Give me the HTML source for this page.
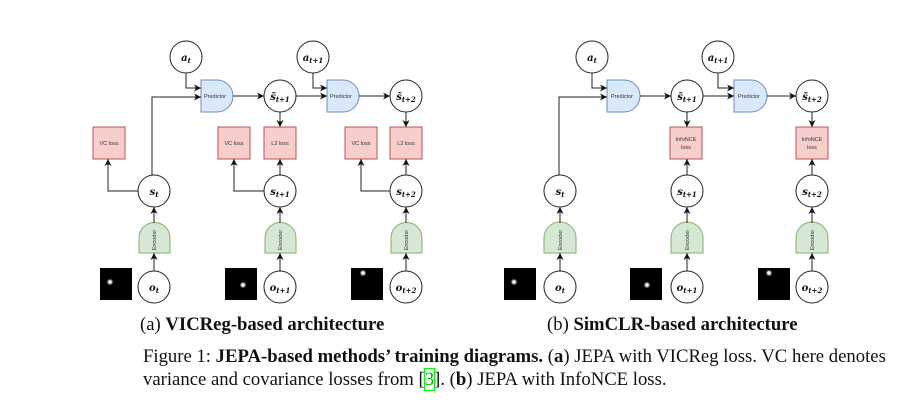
<!DOCTYPE html>
<html><head><meta charset="utf-8"><style>
body{margin:0;background:#fff;width:915px;height:410px;overflow:hidden;position:relative;font-family:"Liberation Serif",serif}
.t{position:absolute;white-space:nowrap;color:#111}
</style></head><body>
<svg width="915" height="410" style="position:absolute;left:0;top:0" font-family="Liberation Sans, sans-serif">
<defs>
<marker id="ar" markerWidth="8" markerHeight="8" refX="7" refY="4" orient="auto" markerUnits="userSpaceOnUse"><path d="M0,0.5 L7,4 L0,7.5 L2,4z" fill="#111"/></marker>
<radialGradient id="dot"><stop offset="0" stop-color="#fff"/><stop offset="0.4" stop-color="#ddd"/><stop offset="1" stop-color="#000" stop-opacity="0"/></radialGradient>
</defs>
<g stroke="#222" stroke-width="1" fill="none">
<g fill="#fff">
<circle cx="186" cy="57" r="16"/><circle cx="313" cy="57" r="16"/>
<circle cx="280" cy="96" r="16"/><circle cx="406" cy="96" r="16"/>
<circle cx="154" cy="191" r="16"/><circle cx="280" cy="191" r="16"/><circle cx="406" cy="191" r="16"/>
<circle cx="154" cy="287" r="16"/><circle cx="280" cy="287" r="16"/><circle cx="406" cy="287" r="16"/>
<circle cx="592" cy="57" r="16"/><circle cx="718" cy="57" r="16"/>
<circle cx="687" cy="96" r="16"/><circle cx="812" cy="96" r="16"/>
<circle cx="560" cy="191" r="16"/><circle cx="687" cy="191" r="16"/><circle cx="812" cy="191" r="16"/>
<circle cx="560" cy="287" r="16"/><circle cx="687" cy="287" r="16"/><circle cx="812" cy="287" r="16"/>
</g>
<g fill="#dae8fc" stroke="#6c8ebf">
<path d="M201,80 H217 A16,16 0 0 1 217,112 H201 Z"/>
<path d="M327,80 H343 A16,16 0 0 1 343,112 H327 Z"/>
<path d="M607,80 H624 A16,16 0 0 1 624,112 H607 Z"/>
<path d="M734,80 H751 A16,16 0 0 1 751,112 H734 Z"/>
</g>
<g fill="#d5e8d4" stroke="#82b366">
<path d="M139,253 V238 A15.5,15.5 0 0 1 170,238 V253 Z"/>
<path d="M265,253 V238 A15.5,15.5 0 0 1 296,238 V253 Z"/>
<path d="M391,253 V238 A15.5,15.5 0 0 1 422,238 V253 Z"/>
<path d="M544,253 V238 A16,16 0 0 1 576,238 V253 Z"/>
<path d="M671,253 V238 A16,16 0 0 1 703,238 V253 Z"/>
<path d="M796,253 V238 A16,16 0 0 1 828,238 V253 Z"/>
</g>
<g fill="#f8cecc" stroke="#b85450">
<rect x="93" y="127" width="32" height="32"/><rect x="218" y="127" width="32" height="32"/><rect x="264" y="127" width="32" height="32"/>
<rect x="345" y="127" width="32" height="32"/><rect x="390" y="127" width="32" height="32"/>
<rect x="670" y="127" width="32" height="32"/><rect x="796" y="127" width="32" height="32"/>
</g>
<g marker-end="url(#ar)">
<path d="M154,271 V253"/><path d="M280,271 V253"/><path d="M406,271 V253"/>
<path d="M154,223 V207"/><path d="M280,223 V207"/><path d="M406,223 V207"/>
<path d="M138,191 H108 V159"/><path d="M264,191 H234 V159"/><path d="M390,191 H361 V159"/>
<path d="M280,175 V159"/><path d="M406,175 V159"/>
<path d="M280,112 V127"/><path d="M406,112 V127"/>
<path d="M152,175 V97 H201"/><path d="M186,73 V88 H201"/>
<path d="M233,96 H264"/><path d="M296,96 H327"/><path d="M313,73 V88 H327"/><path d="M359,96 H390"/>
<path d="M560,271 V253"/><path d="M687,271 V253"/><path d="M812,271 V253"/>
<path d="M560,223 V207"/><path d="M687,223 V207"/><path d="M812,223 V207"/>
<path d="M687,175 V159"/><path d="M812,175 V159"/>
<path d="M687,112 V127"/><path d="M812,112 V127"/>
<path d="M559,175 V97 H607"/><path d="M592,73 V88 H607"/>
<path d="M640,96 H671"/><path d="M703,96 H734"/><path d="M718,73 V88 H734"/><path d="M767,96 H796"/>
</g>
</g>
<g>
<rect x="100" y="268" width="32" height="32" fill="#000"/><circle cx="110" cy="282" r="4" fill="url(#dot)"/>
<rect x="225" y="268" width="32" height="32" fill="#000"/><circle cx="243" cy="285" r="4" fill="url(#dot)"/>
<rect x="351" y="268" width="32" height="32" fill="#000"/><circle cx="363" cy="273" r="4" fill="url(#dot)"/>
<rect x="504" y="268" width="32" height="32" fill="#000"/><circle cx="514" cy="282" r="4" fill="url(#dot)"/>
<rect x="630" y="268" width="32" height="32" fill="#000"/><circle cx="647" cy="285" r="4" fill="url(#dot)"/>
<rect x="758" y="268" width="32" height="32" fill="#000"/><circle cx="769" cy="273" r="4" fill="url(#dot)"/>
</g>
<g font-size="5.5" fill="#333" text-anchor="middle">
<text x="215" y="98">Predictor</text><text x="341" y="98">Predictor</text>
<text x="622" y="98">Predictor</text><text x="749" y="98">Predictor</text>
<text x="109" y="145">VC loss</text><text x="234" y="145">VC loss</text><text x="280" y="145">L2 loss</text>
<text x="361" y="145">VC loss</text><text x="406" y="145">L2 loss</text>
<text x="686" y="141">InfoNCE</text><text x="686" y="149">loss</text>
<text x="812" y="141">InfoNCE</text><text x="812" y="149">loss</text>
<text transform="translate(156,240) rotate(-90)">Encoder</text>
<text transform="translate(282,240) rotate(-90)">Encoder</text>
<text transform="translate(408,240) rotate(-90)">Encoder</text>
<text transform="translate(562,240) rotate(-90)">Encoder</text>
<text transform="translate(689,240) rotate(-90)">Encoder</text>
<text transform="translate(814,240) rotate(-90)">Encoder</text>
</g>
<g font-family="DejaVu Serif, serif" font-style="italic" font-weight="bold" font-size="10" fill="#111" text-anchor="middle">
<text x="186" y="61">a<tspan font-size="7" dy="2">t</tspan></text>
<text x="313" y="61">a<tspan font-size="7" dy="2">t+1</tspan></text>
<text x="280" y="100">s̃<tspan font-size="7" dy="2">t+1</tspan></text>
<text x="406" y="100">s̃<tspan font-size="7" dy="2">t+2</tspan></text>
<text x="154" y="195">s<tspan font-size="7" dy="2">t</tspan></text>
<text x="280" y="195">s<tspan font-size="7" dy="2">t+1</tspan></text>
<text x="406" y="195">s<tspan font-size="7" dy="2">t+2</tspan></text>
<text x="154" y="291">o<tspan font-size="7" dy="2">t</tspan></text>
<text x="280" y="291">o<tspan font-size="7" dy="2">t+1</tspan></text>
<text x="406" y="291">o<tspan font-size="7" dy="2">t+2</tspan></text>
<text x="592" y="61">a<tspan font-size="7" dy="2">t</tspan></text>
<text x="718" y="61">a<tspan font-size="7" dy="2">t+1</tspan></text>
<text x="687" y="100">s̃<tspan font-size="7" dy="2">t+1</tspan></text>
<text x="812" y="100">s̃<tspan font-size="7" dy="2">t+2</tspan></text>
<text x="560" y="195">s<tspan font-size="7" dy="2">t</tspan></text>
<text x="687" y="195">s<tspan font-size="7" dy="2">t+1</tspan></text>
<text x="812" y="195">s<tspan font-size="7" dy="2">t+2</tspan></text>
<text x="560" y="291">o<tspan font-size="7" dy="2">t</tspan></text>
<text x="687" y="291">o<tspan font-size="7" dy="2">t+1</tspan></text>
<text x="812" y="291">o<tspan font-size="7" dy="2">t+2</tspan></text>
</g>
</svg>
<div class="t" style="left:140px;top:314px;font-size:18.7px">(a) <b>VICReg-based architecture</b></div>
<div class="t" style="left:547px;top:314px;font-size:18.7px">(b) <b>SimCLR-based architecture</b></div>
<div class="t" style="left:143px;top:346px;font-size:18.7px">Figure 1: <b>JEPA-based methods’ training diagrams.</b> (<b>a</b>) JEPA with VICReg loss. VC here denotes</div>
<div class="t" style="left:143px;top:369px;font-size:18.7px">variance and covariance losses from [<span style="outline:1px solid #0f0;color:#0a0">3</span>]. (<b>b</b>) JEPA with InfoNCE loss.</div>
</body></html>
